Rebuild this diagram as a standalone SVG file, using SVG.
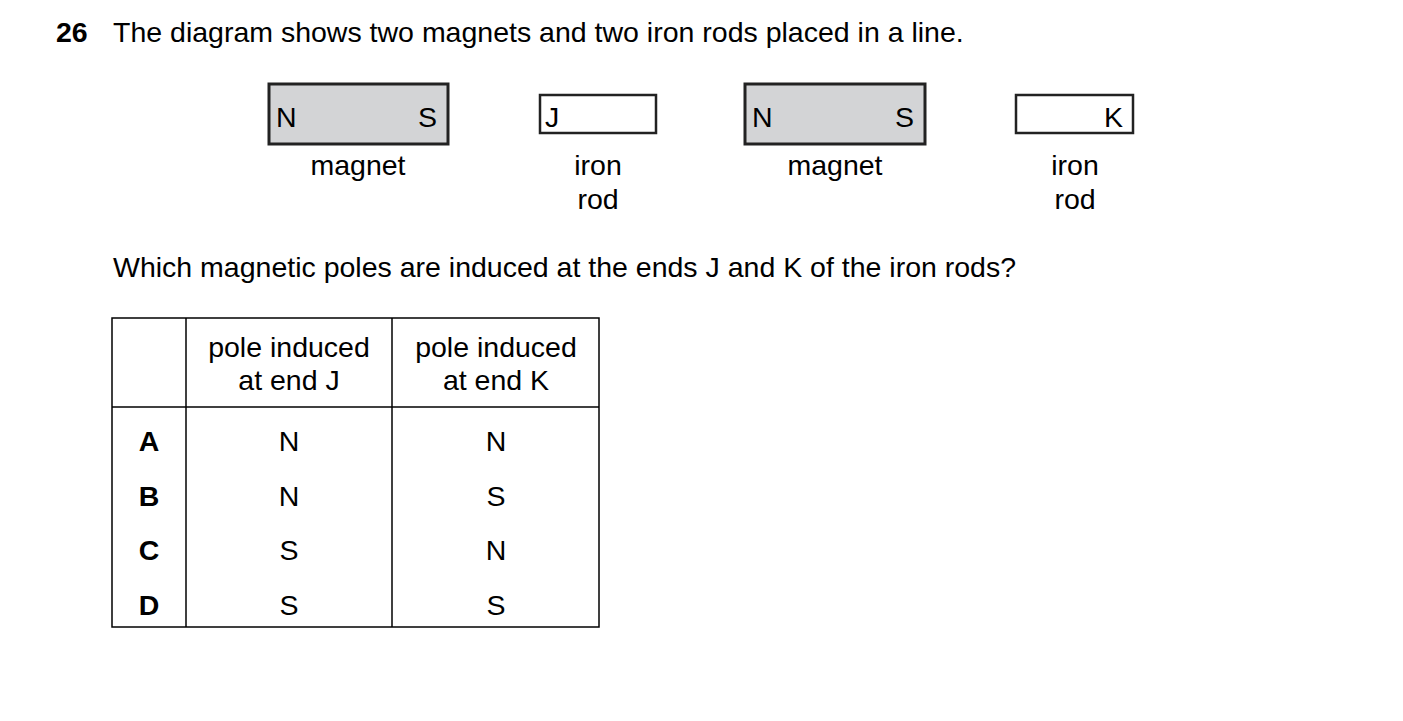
<svg xmlns="http://www.w3.org/2000/svg" width="1403" height="721" viewBox="0 0 1403 721">
<style>
text{font-family:"Liberation Sans",Arial,sans-serif;font-size:28.5px;fill:#000}
.m{fill:#d3d4d6;stroke:#222;stroke-width:3}
.r{fill:#fff;stroke:#222;stroke-width:2.5}
.c{text-anchor:middle}
.b{font-weight:bold}
line{stroke:#000;stroke-width:1.5}
</style>
<rect width="1403" height="721" fill="#fff"/>
<text x="56" y="42" class="b">26</text>
<text x="113" y="42">The diagram shows two magnets and two iron rods placed in a line.</text>
<g id="magnet1"><rect class="m" x="269" y="84" width="179" height="60"/><text x="276" y="127">N</text><text x="418" y="127">S</text><text class="c" x="358" y="175">magnet</text></g>
<g id="rodJ"><rect class="r" x="540" y="95" width="116" height="38"/><text x="545" y="127">J</text><text class="c" x="598" y="175">iron</text><text class="c" x="598" y="209">rod</text></g>
<g id="magnet2"><rect class="m" x="745" y="84" width="180" height="60"/><text x="752" y="127">N</text><text x="895" y="127">S</text><text class="c" x="835" y="175">magnet</text></g>
<g id="rodK"><rect class="r" x="1016" y="95" width="117" height="38"/><text x="1104" y="127">K</text><text class="c" x="1075" y="175">iron</text><text class="c" x="1075" y="209">rod</text></g>
<text x="113" y="277">Which magnetic poles are induced at the ends J and K of the iron rods?</text>
<g id="table">
<rect x="112" y="318" width="487" height="309" fill="none" stroke="#000" stroke-width="1.5"/>
<line x1="186" y1="318" x2="186" y2="627"/><line x1="392" y1="318" x2="392" y2="627"/><line x1="112" y1="407" x2="599" y2="407"/>
<text class="c" x="289" y="357">pole induced</text><text class="c" x="289" y="390">at end J</text>
<text class="c" x="496" y="357">pole induced</text><text class="c" x="496" y="390">at end K</text>
<text class="c b" x="149" y="451">A</text><text class="c" x="289" y="451">N</text><text class="c" x="496" y="451">N</text>
<text class="c b" x="149" y="506">B</text><text class="c" x="289" y="506">N</text><text class="c" x="496" y="506">S</text>
<text class="c b" x="149" y="560">C</text><text class="c" x="289" y="560">S</text><text class="c" x="496" y="560">N</text>
<text class="c b" x="149" y="615">D</text><text class="c" x="289" y="615">S</text><text class="c" x="496" y="615">S</text>
</g>
</svg>
